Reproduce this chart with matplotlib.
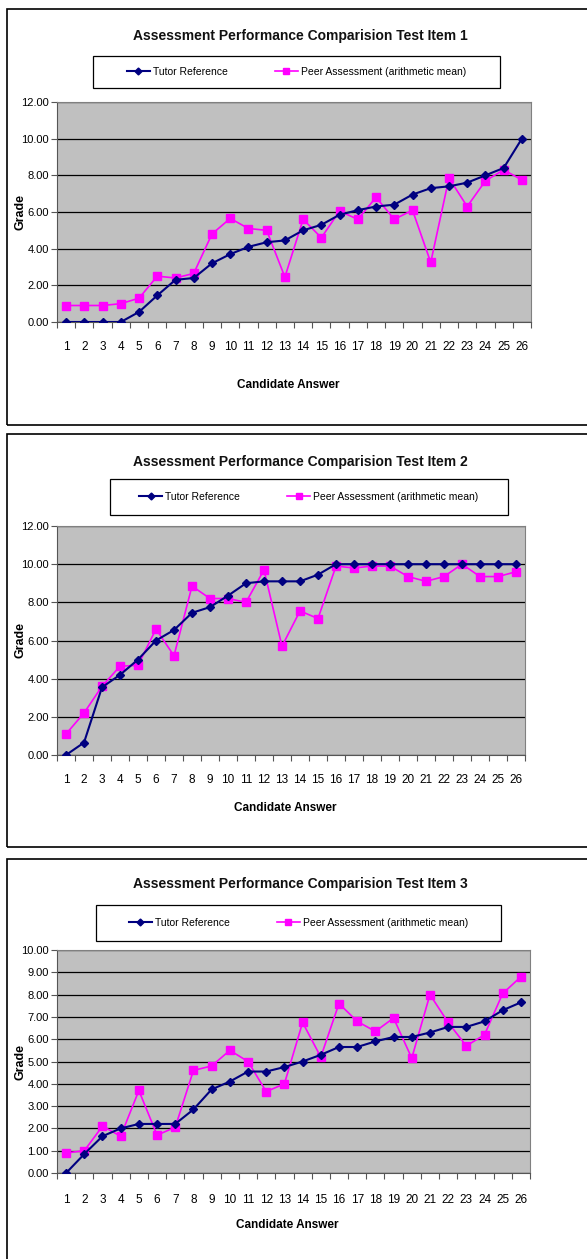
import numpy as np
import matplotlib
matplotlib.use('Agg')
import matplotlib.pyplot as plt
from matplotlib.patches import Rectangle
from matplotlib.lines import Line2D

plt.rcParams['font.family'] = ['Liberation Sans', 'DejaVu Sans']

candidates = list(range(1, 27))

tutor_1 = [0, 0, 0, 0, 0.55, 1.45, 2.3, 2.4, 3.2, 3.7, 4.1, 4.35, 4.45,
           5.0, 5.3, 5.85, 6.1, 6.3, 6.4, 6.95, 7.3, 7.4, 7.6, 8.0, 8.4, 10.0]
peer_1 = [0.9, 0.9, 0.9, 1.0, 1.3, 2.5, 2.4, 2.65, 4.8, 5.65, 5.1, 5.0, 2.45,
          5.6, 4.6, 6.05, 5.6, 6.8, 5.6, 6.1, 3.25, 7.85, 6.3, 7.7, 8.3, 7.75]

tutor_2 = [0, 0.65, 3.55, 4.2, 5.0, 6.0, 6.55, 7.45, 7.75, 8.35, 9.0, 9.1, 9.1,
           9.1, 9.45, 10, 10, 10, 10, 10, 10, 10, 10, 10, 10, 10]
peer_2 = [1.1, 2.2, 3.6, 4.65, 4.7, 6.6, 5.2, 8.85, 8.2, 8.2, 8.0, 9.7, 5.7,
          7.55, 7.15, 9.9, 9.8, 9.9, 9.9, 9.35, 9.1, 9.35, 10.0, 9.35, 9.35, 9.6]

tutor_3 = [0, 0.85, 1.65, 2.0, 2.2, 2.2, 2.2, 2.85, 3.75, 4.1, 4.55, 4.55, 4.75,
           5.0, 5.3, 5.65, 5.65, 5.9, 6.1, 6.1, 6.3, 6.55, 6.55, 6.8, 7.3, 7.65]
peer_3 = [0.9, 1.0, 2.1, 1.65, 3.7, 1.7, 2.05, 4.6, 4.8, 5.5, 5.0, 3.65, 4.0,
          6.75, 5.2, 7.6, 6.8, 6.35, 6.95, 5.15, 8.0, 6.75, 5.7, 6.2, 8.05, 8.8]

titles = ['Assessment Performance Comparision Test Item 1',
          'Assessment Performance Comparision Test Item 2',
          'Assessment Performance Comparision Test Item 3']
series_names = ['Tutor Reference', 'Peer Assessment (arithmetic mean)']

W, H = 587, 1259
fig = plt.figure(figsize=(W / 100, H / 100), dpi=100)

TUTOR = '#000080'
PEER = '#FF00FF'


def fx(px):
    return px / W


def fy(py):
    return 1 - py / H


def do_panel(tutor, peer, title, box, legend_box, plot_box, ymax, ystep,
             title_y, tick_y, xlabel_y):
    # outer frame
    bx0, by0, bx1, by1 = box
    fig.patches.append(Rectangle((fx(bx0), fy(by1)), fx(bx1 - bx0), (by1 - by0) / H,
                                 transform=fig.transFigure, fill=False,
                                 edgecolor='black', linewidth=1.2))
    fig.text(fx(300), fy(title_y), title, ha='center', va='center',
             fontsize=10, fontweight='bold', color='#111111')

    # legend box
    lx0, ly0, lx1, ly1 = legend_box
    fig.patches.append(Rectangle((fx(lx0), fy(ly1)), fx(lx1 - lx0), (ly1 - ly0) / H,
                                 transform=fig.transFigure, fill=False,
                                 edgecolor='black', linewidth=0.9))
    handles = [Line2D([], [], color=TUTOR, marker='D', markersize=3.5, linewidth=1.5),
               Line2D([], [], color=PEER, marker='s', markersize=5, linewidth=1.2)]
    fig.legend(handles, series_names, loc='center', ncol=2, frameon=False,
               bbox_to_anchor=(fx((lx0 + lx1) / 2), fy((ly0 + ly1) / 2)),
               fontsize=7.5, handlelength=2.2, handletextpad=0.3, columnspacing=4.5)

    # plot area
    px0, py0, px1, py1 = plot_box
    ax = fig.add_axes([fx(px0), fy(py1), fx(px1 - px0), (py1 - py0) / H])
    ax.set_facecolor('#C0C0C0')
    ax.plot(candidates, peer, color=PEER, marker='s', markersize=6,
            linewidth=1.2, zorder=3)
    ax.plot(candidates, tutor, color=TUTOR, marker='D', markersize=4,
            linewidth=1.5, zorder=4)
    ax.set_xlim(0.5, 26.5)
    ax.set_ylim(0, ymax)
    yt = np.arange(0, ymax + 0.001, ystep)
    ax.set_yticks(yt)
    ax.set_yticklabels(['%.2f' % v for v in yt], fontsize=8)
    ax.yaxis.grid(True, color='black', linewidth=0.9)
    ax.set_axisbelow(True)
    ax.set_xticks(np.arange(0.5, 27, 1))
    ax.set_xticklabels([])
    ax.set_xticks(candidates, minor=True)
    ax.set_xticklabels([str(c) for c in candidates], minor=True, fontsize=8.5)
    ax.tick_params(axis='x', which='minor', length=0,
                   pad=(tick_y - py1) - 8)
    ax.tick_params(axis='x', which='major', length=4, color='#555555')
    ax.tick_params(axis='y', length=4, color='#555555', pad=2)
    for side in ['top', 'right']:
        ax.spines[side].set_color('#808080')
    ax.spines['left'].set_color('#555555')
    ax.spines['bottom'].set_color('#555555')
    fig.text(fx((px0 + px1) / 2 - 6), fy(xlabel_y), 'Candidate Answer',
             ha='center', va='center', fontsize=8.5, fontweight='bold')
    fig.text(fx(21), fy((py0 + py1) / 2), 'Grade', ha='center', va='center',
             rotation=90, fontsize=9, fontweight='bold')


do_panel(tutor_1, peer_1, titles[0], (7, 9, 600, 425), (93, 56, 500, 88),
         (57, 102, 531, 322), 12, 2, 36, 344, 385)
do_panel(tutor_2, peer_2, titles[1], (7, 434, 600, 847), (110, 479, 508, 515),
         (57, 526, 525, 755), 12, 2, 462, 777, 808)
do_panel(tutor_3, peer_3, titles[2], (7, 859, 600, 1300), (96, 905, 501, 941),
         (57, 950, 530, 1173), 10, 1, 884, 1196, 1225)

fig.savefig('out.png', dpi=100)
